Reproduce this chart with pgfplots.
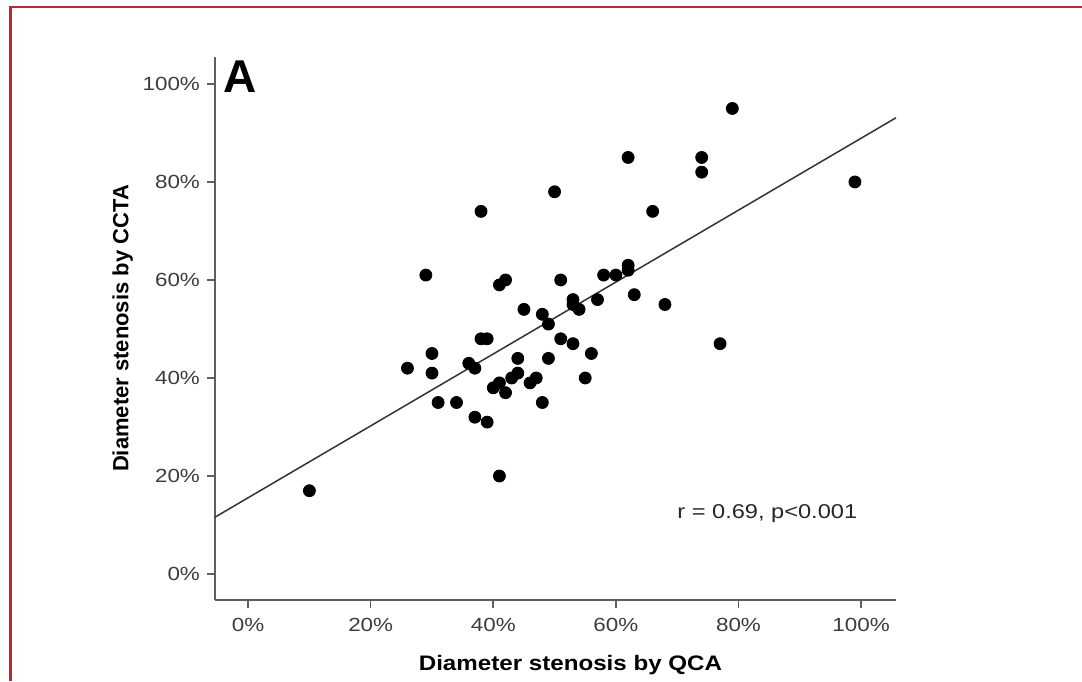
\documentclass[border=0pt]{standalone}
\usepackage{fontspec}
\setmainfont{Liberation Sans}
\newfontfamily\tickfont[FakeStretch=1.18]{Liberation Sans}
\newfontfamily\labfont[FakeStretch=1.15]{Liberation Sans}
\usepackage{pgfplots}
\pgfplotsset{compat=1.18}
\definecolor{framered}{RGB}{190,40,45}
\definecolor{axgray}{RGB}{95,95,95}
\definecolor{tickgray}{RGB}{60,60,60}
\pgfplotstableread{
x y
10 17
26 42
29 61
30 45
30 41
31 35
34 35
36 43
37 42
37 32
38 74
38 48
39 48
39 31
41 59
42 60
40 38
41 39
41 20
42 37
43 40
44 41
44 44
45 54
46 39
47 40
48 53
48 35
49 51
49 44
50 78
51 60
51 48
53 56
53 55
54 54
53 47
55 40
56 45
57 56
58 61
60 61
62 63
62 62
62 85
63 57
66 74
68 55
74 85
74 82
77 47
79 95
99 80
}\scatterdata
\pgfplotstableread{
x y
-5.4 11.6
105.7 93.1
}\fitline
\begin{document}
\begin{tikzpicture}
\path[use as bounding box] (0,0) rectangle (541pt,340.5pt);
\draw[framered, line width=1.1pt] (5.25pt,0) -- (5.25pt,337pt) -- (541pt,337pt);
\begin{axis}[
  at={(107.5pt,40.5pt)}, anchor=south west,
  scale only axis, width=340.5pt, height=271.5pt,
  xmin=-5.4, xmax=105.7, ymin=-5.3, ymax=105.5,
  axis lines*=left,
  axis line style={axgray, line width=0.8pt, -},
  xtick={0,20,40,60,80,100}, ytick={0,20,40,60,80,100},
  xticklabels={{0\%},{20\%},{40\%},{60\%},{80\%},{100\%}},
  yticklabels={{0\%},{20\%},{40\%},{60\%},{80\%},{100\%}},
  tick style={axgray, line width=0.8pt},
  tick align=outside, major tick length=4pt,
  ticklabel style={font=\tickfont\fontsize{9.5}{11}\selectfont, text=tickgray},
  xticklabel style={yshift=-1.5pt},
  xlabel={Diameter stenosis by QCA},
  ylabel={Diameter stenosis by CCTA},
  xlabel style={font=\labfont\bfseries\fontsize{10.5}{12}\selectfont, xshift=7.5pt, yshift=-5pt},
  ylabel style={font=\bfseries\fontsize{11}{13}\selectfont},
  ylabel shift=-2pt,
  clip=false,
]
\addplot[only marks, mark=*, mark size=3pt, black] table[x=x,y=y] {\scatterdata};
\addplot[no marks, color=black!80, line width=0.75pt] table[x=x,y=y] {\fitline};
\node[font=\tickfont\fontsize{10}{12}\selectfont, text=black!85] at (axis cs:84.7,12.4) {r = 0.69, p<0.001};
\node[font=\bfseries\fontsize{23}{26}\selectfont] at (axis cs:-1.3,101.4) {A};
\end{axis}
\end{tikzpicture}
\end{document}
